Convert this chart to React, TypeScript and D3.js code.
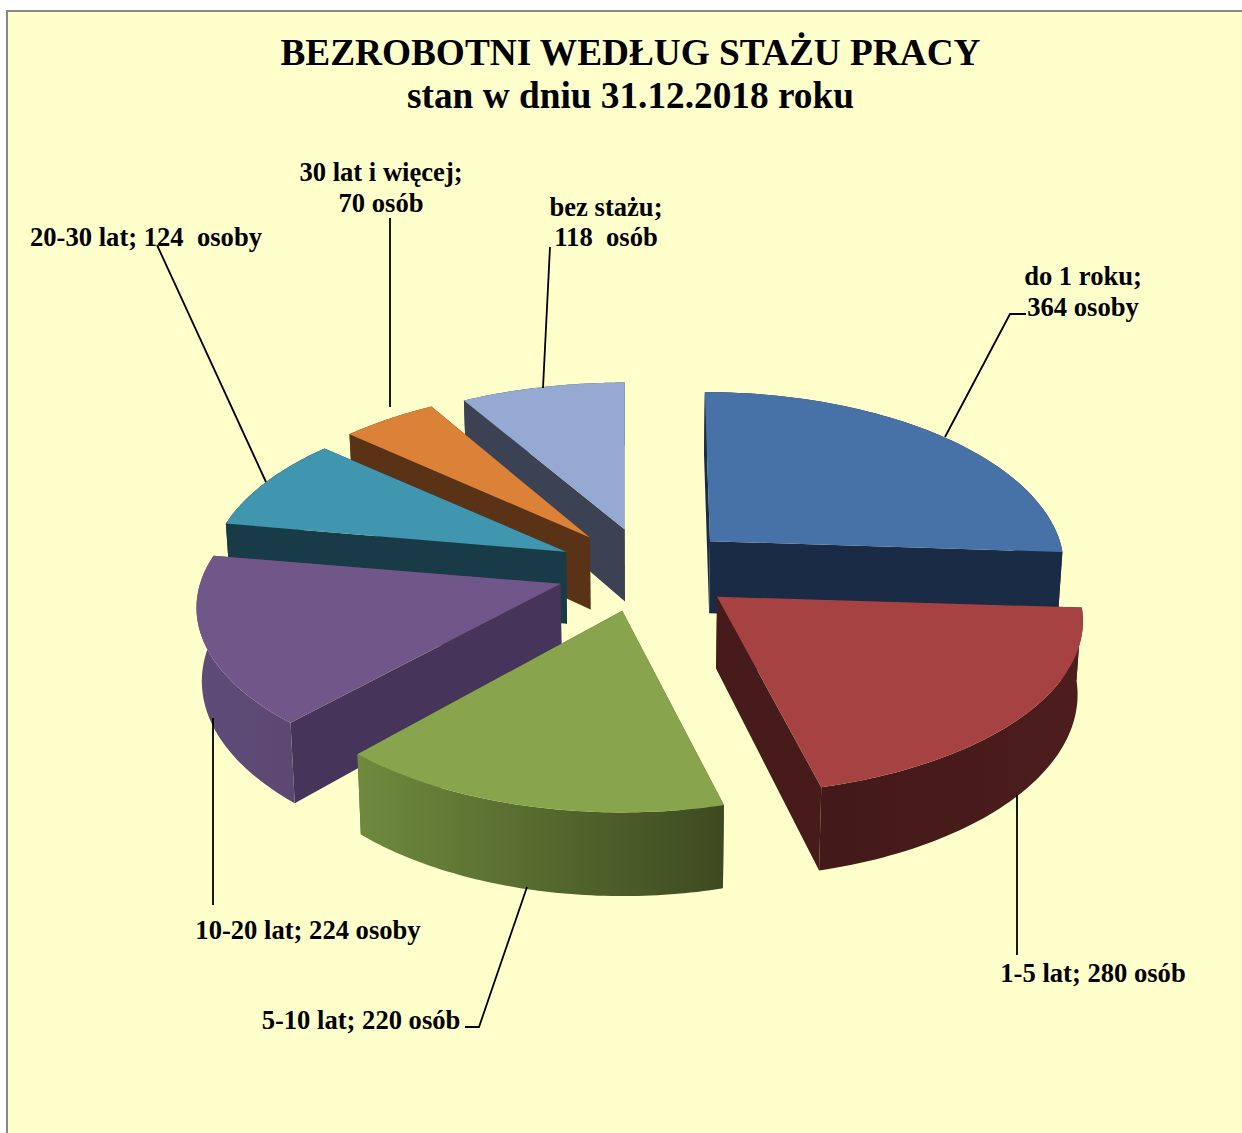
import React from "react";
import * as d3 from "d3";

// ---- data ----
const categories = ["do 1 roku", "1-5 lat", "5-10 lat", "10-20 lat", "20-30 lat", "30 lat i więcej", "bez stażu"];
const values = [364, 280, 220, 224, 124, 70, 118];
const titleLines = ["BEZROBOTNI WEDŁUG STAŻU PRACY", "stan w dniu 31.12.2018 roku"];
const labelLines = [
  ["do 1 roku;", "364 osoby"],
  ["1-5 lat; 280 osób"],
  ["5-10 lat; 220 osób"],
  ["10-20 lat; 224 osoby"],
  ["20-30 lat; 124  osoby"],
  ["30 lat i więcej;", "70 osób"],
  ["bez stażu;", "118  osób"],
];

// ---- styling and layout ----
const topColors = ["#4672a8", "#a64342", "#88a44c", "#715789", "#4095af", "#db8138", "#95a9d2"];
const radialColors = ["#1a2b45", "#471b1a", "#55682f", "#47345a", "#183b47", "#5a3317", "#3b4254"];
const rimLeft = ["#1a2b45", "#431919", "#6f8a3d", "#5e4b78", "#183b47", "#5a3317", "#3b4254"];
const rimRight = ["#1a2b45", "#4c1d1c", "#3d4a20", "#5c4872", "#183b47", "#5a3317", "#3b4254"];
// exploded position of each slice's tip: horizontal and vertical distance from the pie's centre
const explodeX = [96, 100, 74, 84, 82, 79, 58];
const explodeY = 42;
const widthFactor = [1, 1.035, 1.01, 1.03, 1.01, 1.005, 1.02];
const heightFactor = [1, 1, 1.02, 0.99, 1, 1, 0.985];
const paintOrder = [6, 5, 4, 0, 3, 2, 1];
const center = { x: 640, y: 570 };
const radiusX = 350;
const radiusY = 170;
const perspective = 0.14;
const backConverge = 0.6;
const wallDepth = 72;
const wallConverge = 0.012;

const labelAnchors = [
  { x: 1083, y: [285, 316] },
  { x: 1093, y: [982] },
  { x: 361, y: [1029] },
  { x: 308, y: [939] },
  { x: 146, y: [246] },
  { x: 381, y: [181, 212] },
  { x: 606, y: [216, 246] },
];
const leaders: [number, number][][] = [
  [[945, 437], [1010, 314], [1026, 314]],
  [[1017, 795], [1017, 955]],
  [[527, 887], [479, 1027], [465, 1027]],
  [[213, 718], [213, 905]],
  [[266, 482], [157, 245]],
  [[390, 407], [390, 218]],
  [[543, 388], [550, 247]],
];

const FONT = "'Liberation Serif', 'Times New Roman', serif";

export default function App() {
  const arcs = d3.pie<number>().sort(null).value((d) => d).startAngle(0).endAngle(2 * Math.PI)(values);
  const line = d3.line<[number, number]>();

  const tip = (i: number, mid: number): [number, number] => [
    center.x + explodeX[i] * Math.sin(mid),
    center.y - explodeY * Math.cos(mid),
  ];
  const scaleAt = (t: number) => 1 / (1 + perspective * Math.cos(t));
  const rim = (i: number, mid: number, t: number): [number, number] => {
    const [ax, ay] = tip(i, mid);
    const s = scaleAt(t);
    const shift = Math.max(ax - center.x, 0) * Math.min(s - 1, 0) * backConverge;
    return [
      ax + shift + radiusX * widthFactor[i] * s * Math.sin(t),
      ay - radiusY * heightFactor[i] * s * Math.cos(t),
    ];
  };
  const below = (p: [number, number], depth: number): [number, number] => [
    p[0] - (p[0] - center.x) * wallConverge,
    p[1] + depth,
  ];

  const slices = arcs.map((a, i) => {
    const mid = (a.startAngle + a.endAngle) / 2;
    const ts = d3.range(0, 61).map((k) => a.startAngle + ((a.endAngle - a.startAngle) * k) / 60);
    const top = ts.map((t) => rim(i, mid, t));
    const bottom = ts.map((t) => below(rim(i, mid, t), wallDepth * scaleAt(t)));
    const apex = tip(i, mid);
    const apexLow = below(apex, wallDepth);
    const radial = (k: number) => line([apex, top[k], bottom[k], apexLow]) + "Z";
    return {
      i,
      topPath: line([apex, ...top]) + "Z",
      rimPath: line([...top, ...bottom.slice().reverse()]) + "Z",
      startWall: radial(0),
      endWall: radial(60),
      xExtent: d3.extent(top, (p) => p[0]) as [number, number],
    };
  });

  return (
    <svg
      width={1242}
      height={1133}
      viewBox="0 0 1242 1133"
      style={{ position: "absolute", left: 0, top: 0, display: "block" }}
    >
      <defs>
        {slices.map((s) => (
          <linearGradient
            key={s.i}
            id={`rim${s.i}`}
            gradientUnits="userSpaceOnUse"
            x1={s.xExtent[0]}
            x2={s.xExtent[1]}
            y1={0}
            y2={0}
          >
            <stop offset="0" stopColor={rimLeft[s.i]} />
            <stop offset="1" stopColor={rimRight[s.i]} />
          </linearGradient>
        ))}
      </defs>
      <rect width={1242} height={1133} fill="#ffffff" />
      <rect x={7} y={11} width={1240} height={1130} fill="#ffffcc" stroke="#888888" strokeWidth={2} />

      {paintOrder.map((idx) => {
        const s = slices[idx];
        return (
          <g key={categories[idx]}>
            <path d={s.startWall} fill={radialColors[idx]} />
            <path d={s.endWall} fill={radialColors[idx]} />
            <path d={s.rimPath} fill={`url(#rim${idx})`} />
            <path d={s.topPath} fill={topColors[idx]} />
          </g>
        );
      })}

      {leaders.map((pts, i) => (
        <path key={i} d={line(pts) ?? ""} fill="none" stroke="#000" strokeWidth={1.8} />
      ))}

      <g fontFamily={FONT} fontWeight="bold" textAnchor="middle" fill="#000">
        {titleLines.map((t, i) => (
          <text key={t} x={630.5} y={[65, 108][i]} fontSize={37.3}>
            {t}
          </text>
        ))}
        {labelLines.map((lines, i) =>
          lines.map((t, j) => (
            <text key={t} x={labelAnchors[i].x} y={labelAnchors[i].y[j]} fontSize={26.6} xmlSpace="preserve">
              {t}
            </text>
          ))
        )}
      </g>
    </svg>
  );
}
